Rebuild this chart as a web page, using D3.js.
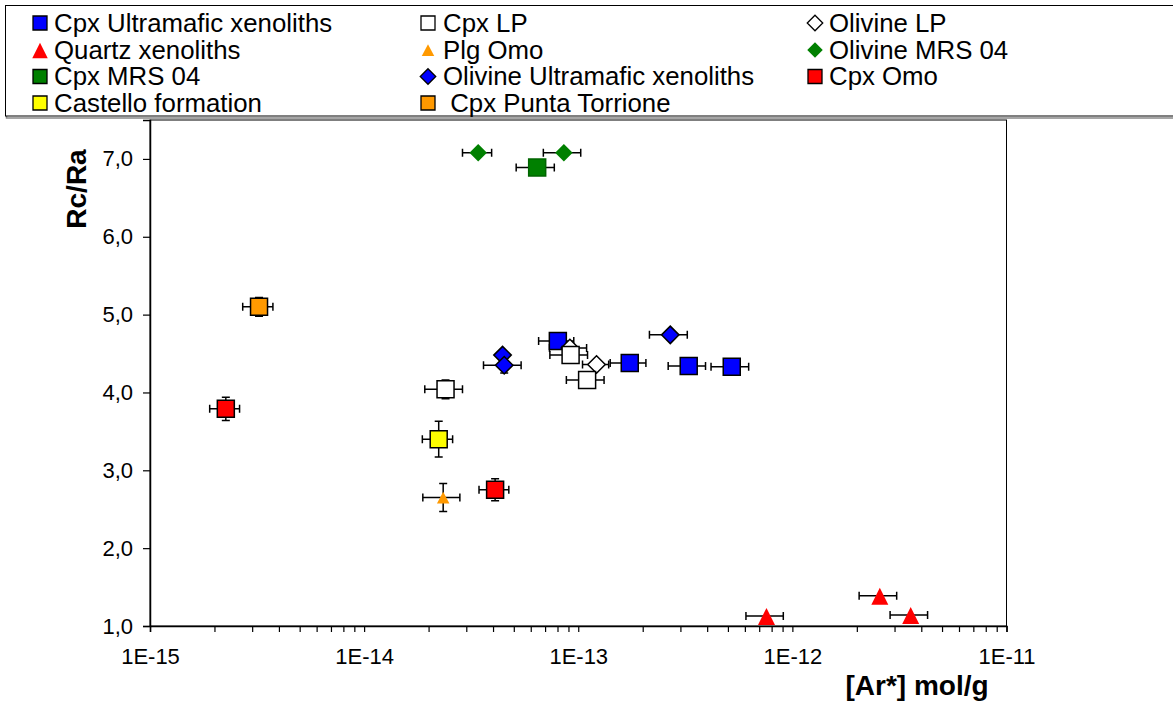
<!DOCTYPE html>
<html>
<head>
<meta charset="utf-8">
<script src="https://cdn.jsdelivr.net/npm/d3@7"></script>
<style>
  body { margin: 0; background: #fff; }
  svg { display: block; }
  text { font-family: "Liberation Sans", Arial, sans-serif; fill: #000; }
</style>
</head>
<body>
<svg id="chart" width="1173" height="704"></svg>
<script>
// Legend order (row by row, three columns)
const seriesNames = [
  "Cpx Ultramafic xenoliths", "Cpx LP", "Olivine LP",
  "Quartz xenoliths", "Plg Omo", "Olivine MRS 04",
  "Cpx MRS 04", "Olivine Ultramafic xenoliths", "Cpx Omo",
  "Castello formation", " Cpx Punta Torrione"
];

// [Ar*] (mol/g), Rc/Ra and their uncertainties for each series
const cpxUltramaficAr     = [8.03e-14, 1.74e-13, 3.28e-13, 5.21e-13];
const cpxUltramaficRc     = [4.66, 4.38, 4.34, 4.33];
const cpxUltramaficArErr  = [1.5e-14, 3.3e-14, 6.5e-14, 1.04e-13];
const cpxUltramaficRcErr  = [0, 0, 0, 0];

const cpxLpAr     = [2.40e-14, 9.21e-14, 1.10e-13];
const cpxLpRc     = [4.04, 4.48, 4.16];
const cpxLpArErr  = [4.8e-15, 1.84e-14, 2.2e-14];
const cpxLpRcErr  = [0.12, 0, 0];

const olivineLpAr     = [9.14e-14, 1.217e-13];
const olivineLpRc     = [4.57, 4.36];
const olivineLpArErr  = [1.8e-14, 1.7e-14];
const olivineLpRcErr  = [0, 0];

const quartzAr     = [7.57e-13, 2.56e-12, 3.57e-12];
const quartzRc     = [1.13, 1.39, 1.14];
const quartzArErr  = [1.5e-13, 5.1e-13, 7.1e-13];
const quartzRcErr  = [0, 0, 0];

const plgOmoAr     = [2.34e-14];
const plgOmoRc     = [2.65];
const plgOmoArErr  = [4.6e-15];
const plgOmoRcErr  = [0.18];

const olivineMrsAr     = [3.41e-14, 8.57e-14];
const olivineMrsRc     = [7.08, 7.08];
const olivineMrsArErr  = [5.3e-15, 1.7e-14];
const olivineMrsRcErr  = [0, 0];

const cpxMrsAr     = [6.43e-14];
const cpxMrsRc     = [6.89];
const cpxMrsArErr  = [1.3e-14];
const cpxMrsRcErr  = [0];

const olivineUltramaficAr     = [4.43e-14, 4.51e-14, 2.69e-13];
const olivineUltramaficRc     = [4.48, 4.35, 4.74];
const olivineUltramaficArErr  = [0, 9.0e-15, 5.4e-14];
const olivineUltramaficRcErr  = [0, 0.10, 0];

const cpxOmoAr     = [2.26e-15, 4.09e-14];
const cpxOmoRc     = [3.79, 2.75];
const cpxOmoArErr  = [3.6e-16, 6.5e-15];
const cpxOmoRcErr  = [0.15, 0.14];

const castelloAr     = [2.23e-14];
const castelloRc     = [3.40];
const castelloArErr  = [3.6e-15];
const castelloRcErr  = [0.23];

const puntaTorrioneAr     = [3.23e-15];
const puntaTorrioneRc     = [5.10];
const puntaTorrioneArErr  = [5.2e-16];
const puntaTorrioneRcErr  = [0.12];

// Axis ticks
const xMajorTicks = [1e-15, 1e-14, 1e-13, 1e-12, 1e-11];
const xTickLabels = ["1E-15", "1E-14", "1E-13", "1E-12", "1E-11"];
const yTicks      = [1, 2, 3, 4, 5, 6, 7];
const yTickLabels = ["1,0", "2,0", "3,0", "4,0", "5,0", "6,0", "7,0"];

// Build point lists
function pts(ar, rc, arErr, rcErr) {
  return ar.map((v, i) => ({ ar: v, rc: rc[i], arErr: arErr[i], rcErr: rcErr[i] }));
}
const seriesData = {
  "Cpx Ultramafic xenoliths": pts(cpxUltramaficAr, cpxUltramaficRc, cpxUltramaficArErr, cpxUltramaficRcErr),
  "Cpx LP": pts(cpxLpAr, cpxLpRc, cpxLpArErr, cpxLpRcErr),
  "Olivine LP": pts(olivineLpAr, olivineLpRc, olivineLpArErr, olivineLpRcErr),
  "Quartz xenoliths": pts(quartzAr, quartzRc, quartzArErr, quartzRcErr),
  "Plg Omo": pts(plgOmoAr, plgOmoRc, plgOmoArErr, plgOmoRcErr),
  "Olivine MRS 04": pts(olivineMrsAr, olivineMrsRc, olivineMrsArErr, olivineMrsRcErr),
  "Cpx MRS 04": pts(cpxMrsAr, cpxMrsRc, cpxMrsArErr, cpxMrsRcErr),
  "Olivine Ultramafic xenoliths": pts(olivineUltramaficAr, olivineUltramaficRc, olivineUltramaficArErr, olivineUltramaficRcErr),
  "Cpx Omo": pts(cpxOmoAr, cpxOmoRc, cpxOmoArErr, cpxOmoRcErr),
  "Castello formation": pts(castelloAr, castelloRc, castelloArErr, castelloRcErr),
  " Cpx Punta Torrione": pts(puntaTorrioneAr, puntaTorrioneRc, puntaTorrioneArErr, puntaTorrioneRcErr)
};

// Marker styles
const styles = {
  "Cpx Ultramafic xenoliths":     { shape: "square",   fill: "#0000ff", stroke: "#000" },
  "Cpx LP":                       { shape: "square",   fill: "#ffffff", stroke: "#000" },
  "Olivine LP":                   { shape: "diamond",  fill: "#ffffff", stroke: "#000" },
  "Quartz xenoliths":             { shape: "triangle", fill: "#ff0000", stroke: "none" },
  "Plg Omo":                      { shape: "smallTriangle", fill: "#ff9900", stroke: "none" },
  "Olivine MRS 04":               { shape: "diamond",  fill: "#008000", stroke: "none" },
  "Cpx MRS 04":                   { shape: "square",   fill: "#008000", stroke: "#006400" },
  "Olivine Ultramafic xenoliths": { shape: "diamond",  fill: "#0000ff", stroke: "#000" },
  "Cpx Omo":                      { shape: "square",   fill: "#ff0000", stroke: "#000" },
  "Castello formation":           { shape: "square",   fill: "#ffff00", stroke: "#000" },
  " Cpx Punta Torrione":          { shape: "square",   fill: "#ff9900", stroke: "#000" }
};

// Stacking order of the markers on the plot
const drawOrder = [
  "Cpx Ultramafic xenoliths", "Olivine LP", "Cpx LP", "Quartz xenoliths", "Plg Omo",
  "Olivine MRS 04", "Cpx MRS 04", "Olivine Ultramafic xenoliths", "Cpx Omo",
  "Castello formation", " Cpx Punta Torrione"
];

function shapePath(shape, s) {
  // s = overall marker size in px
  const h = s / 2;
  switch (shape) {
    case "square":   return `M${-h},${-h}H${h}V${h}H${-h}Z`;
    case "diamond":  return `M0,${-h}L${h},0L0,${h}L${-h},0Z`;
    case "triangle": return `M0,${-s * 0.47}L${h},${s * 0.53}L${-h},${s * 0.53}Z`;
    case "smallTriangle": return `M0,${-s * 0.47}L${h},${s * 0.47}L${-h},${s * 0.47}Z`;
  }
}
const plotSize = { square: 17, diamond: 17.5, triangle: 17, smallTriangle: 12.5 };
const legendSize = { square: 14, diamond: 15.5, triangle: 15.5, smallTriangle: 12.5 };

const svg = d3.select("#chart");
const margin = { left: 150, right: 1173 - 1006.5, top: 120, bottom: 704 - 626 };
const W = 1173, H = 704;

const x = d3.scaleLog().domain([1e-15, 1e-11]).range([margin.left, W - margin.right]);
const y = d3.scaleLinear().domain([1, 7.5]).range([H - margin.bottom, margin.top]);

// Legend box with a light shadow edge
const legend = svg.append("g");
legend.append("rect")
  .attr("x", 6.5).attr("y", 8).attr("width", 1180).attr("height", 110)
  .attr("fill", "none").attr("stroke", "#888").attr("stroke-width", 1.5);
legend.append("rect")
  .attr("x", 5.5).attr("y", 5.5).attr("width", 1180).attr("height", 110.5)
  .attr("fill", "#fff").attr("stroke", "#000").attr("stroke-width", 1);

const legendCols = [40, 428, 815];
const legendTextX = [54, 443, 829];
const legendRows = [23, 50, 76.5, 103];
seriesNames.forEach((name, i) => {
  const col = i % 3, row = Math.floor(i / 3);
  const st = styles[name];
  legend.append("path")
    .attr("transform", `translate(${legendCols[col]},${legendRows[row]})`)
    .attr("d", shapePath(st.shape, legendSize[st.shape]))
    .attr("fill", st.fill)
    .attr("stroke", st.stroke === "none" ? "none" : "#000")
    .attr("stroke-width", 1.3);
  legend.append("text")
    .attr("x", legendTextX[col]).attr("y", legendRows[row] + 8.5)
    .attr("font-size", 25.8)
    .attr("xml:space", "preserve")
    .style("white-space", "pre")
    .text(name);
});

// Plot frame
svg.append("rect")
  .attr("x", x.range()[0]).attr("y", y.range()[1])
  .attr("width", x.range()[1] - x.range()[0])
  .attr("height", y.range()[0] - y.range()[1])
  .attr("fill", "#fff").attr("stroke", "#000").attr("stroke-width", 1);

// X axis: log ticks at every 1..9 x decade
const xAllTicks = [];
for (let d = -15; d < -11; d++) for (let m = 1; m < 10; m++) xAllTicks.push(m * Math.pow(10, d));
xAllTicks.push(1e-11);
const xAxis = d3.axisBottom(x)
  .tickValues(xAllTicks)
  .tickSize(6)
  .tickPadding(16)
  .tickFormat(d => {
    const k = xMajorTicks.findIndex(t => Math.abs(Math.log10(t) - Math.log10(d)) < 1e-9);
    return k >= 0 ? xTickLabels[k] : "";
  });
const gx = svg.append("g").attr("transform", `translate(0,${y.range()[0]})`).call(xAxis);
gx.select(".domain").attr("stroke-width", 1.5);
gx.selectAll(".tick line").attr("stroke-width", 1.2);
gx.selectAll("text").attr("font-size", 22).attr("font-family", "Liberation Sans, Arial, sans-serif");

// Y axis
const yAxis = d3.axisLeft(y)
  .tickValues(yTicks)
  .tickSize(7)
  .tickPadding(10)
  .tickFormat((d, i) => yTickLabels[i]);
const gy = svg.append("g").attr("transform", `translate(${x.range()[0]},0)`).call(yAxis);
gy.select(".domain").attr("stroke-width", 1.5);
gy.selectAll(".tick line").attr("stroke-width", 1.2);
gy.selectAll("text").attr("font-size", 22).attr("font-family", "Liberation Sans, Arial, sans-serif");

// Axis titles
svg.append("text")
  .attr("transform", `translate(86,189) rotate(-90)`)
  .attr("text-anchor", "middle")
  .attr("font-size", 28).attr("font-weight", "bold")
  .text("Rc/Ra");
svg.append("text")
  .attr("x", 917).attr("y", 695)
  .attr("text-anchor", "middle")
  .attr("font-size", 28).attr("font-weight", "bold")
  .text("[Ar*] mol/g");

// Error bars (under all markers)
const bars = svg.append("g").attr("stroke", "#000").attr("stroke-width", 1.5).attr("fill", "none");
const cap = 4;
drawOrder.forEach(name => {
  seriesData[name].forEach(p => {
    const cx = x(p.ar), cy = y(p.rc);
    if (p.arErr > 0) {
      const x0 = x(p.ar - p.arErr), x1 = x(p.ar + p.arErr);
      bars.append("path").attr("d",
        `M${x0},${cy}H${x1}M${x0},${cy - cap}V${cy + cap}M${x1},${cy - cap}V${cy + cap}`);
    }
    if (p.rcErr > 0) {
      const y0 = y(p.rc - p.rcErr), y1 = y(p.rc + p.rcErr);
      bars.append("path").attr("d",
        `M${cx},${y0}V${y1}M${cx - cap},${y0}H${cx + cap}M${cx - cap},${y1}H${cx + cap}`);
    }
  });
});

// Markers
const marks = svg.append("g");
drawOrder.forEach(name => {
  const st = styles[name];
  marks.selectAll(null)
    .data(seriesData[name])
    .enter().append("path")
    .attr("transform", d => `translate(${x(d.ar)},${y(d.rc)})`)
    .attr("d", shapePath(st.shape, plotSize[st.shape]))
    .attr("fill", st.fill)
    .attr("stroke", st.stroke)
    .attr("stroke-width", 1.5);
});
</script>
</body>
</html>
